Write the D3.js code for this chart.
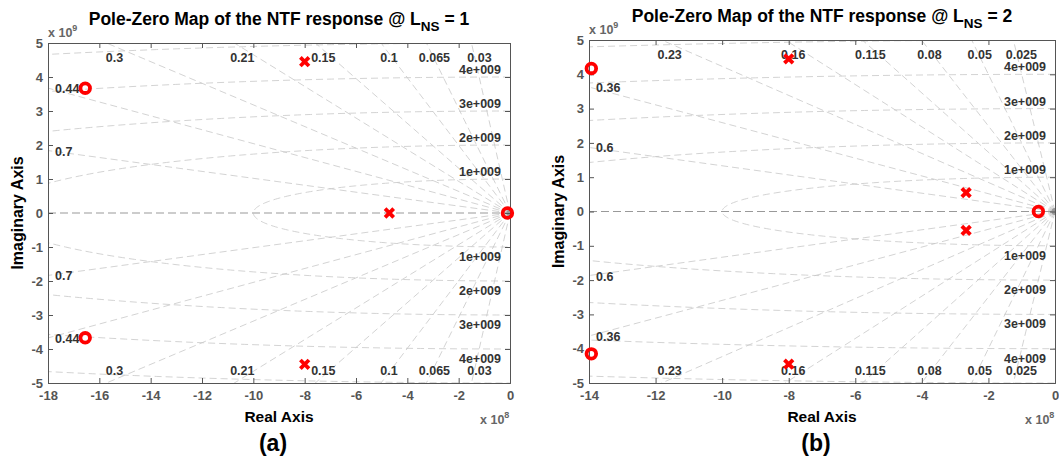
<!DOCTYPE html>
<html>
<head>
<meta charset="utf-8">
<script src="https://cdn.jsdelivr.net/npm/d3@7"></script>
<style>
  body { margin: 0; background: #fff; }
  svg { display: block; font-family: "Liberation Sans", Arial, sans-serif; }
  .tick text { font-size: 13px; font-weight: bold; fill: #555; }
  .tick line, .domain { stroke: #555; }
</style>
</head>
<body>
<svg id="chart" width="1059" height="462"></svg>
<script>
// real parts in units of 1e8, imaginary parts in units of 1e9
const polesA = [[-8, 4.45], [-8, -4.45], [-4.7, 0]];
const zerosA = [[-16.55, 3.67], [-16.55, -3.67], [-0.1, 0]];
const polesB = [[-8, 4.45], [-8, -4.45], [-2.67, 0.55], [-2.67, -0.55]];
const zerosB = [[-13.93, 4.17], [-13.93, -4.15], [-0.5, 0]];

// sgrid damping ratios and natural frequencies (1e9 rad/s)
const zetaA = [0.03, 0.065, 0.1, 0.15, 0.21, 0.3, 0.44, 0.7];
const zetaB = [0.025, 0.05, 0.08, 0.115, 0.16, 0.23, 0.36, 0.6];
const wnCircles = [1, 2, 3, 4, 5];
const wnLabels = ["1e+009", "2e+009", "3e+009", "4e+009"];

const xTicksA = [-18, -16, -14, -12, -10, -8, -6, -4, -2, 0];
const xTicksB = [-14, -12, -10, -8, -6, -4, -2, 0];
const yTicks = [-5, -4, -3, -2, -1, 0, 1, 2, 3, 4, 5];

const svg = d3.select("#chart");

const panels = [
  { id: "a", left: 48, right: 510, top: 43, bottom: 383, xmin: -18, xTicks: xTicksA,
    zeta: zetaA, poles: polesA, zeros: zerosA, lns: "1", titleY: 25, expY: 37, tag: "(a)" },
  { id: "b", left: 589, right: 1055, top: 40, bottom: 383, xmin: -14, xTicks: xTicksB,
    zeta: zetaB, poles: polesB, zeros: zerosB, lns: "2", titleY: 22, expY: 34, tag: "(b)" }
];

panels.forEach(drawPanel);

function drawPanel(p) {
  const x = d3.scaleLinear().domain([p.xmin, 0]).range([p.left, p.right]);
  const y = d3.scaleLinear().domain([-5, 5]).range([p.bottom, p.top]);
  const g = svg.append("g");

  g.append("clipPath").attr("id", "clip-" + p.id)
    .append("rect")
    .attr("x", p.left).attr("y", p.top)
    .attr("width", p.right - p.left).attr("height", p.bottom - p.top);

  const grid = g.append("g").attr("clip-path", `url(#clip-${p.id})`)
    .attr("fill", "none");

  // constant natural frequency curves (circles in the s-plane)
  const arc = d3.line()
    .x(t => x(-10 * t.w * Math.sin(t.a)))
    .y(t => y(t.w * Math.cos(t.a)));
  wnCircles.forEach(w => {
    const pts = d3.range(0, 181).map(d => ({ w: w, a: d * Math.PI / 180 }));
    grid.append("path").attr("d", arc(pts))
      .attr("stroke", "#c8c8c8").attr("stroke-width", 0.8)
      .attr("stroke-dasharray", "7,4");
  });

  // constant damping rays
  p.zeta.forEach(z => {
    const s = Math.sqrt(1 - z * z);
    [1, -1].forEach(sign => {
      grid.append("line")
        .attr("x1", x(0)).attr("y1", y(0))
        .attr("x2", x(-10 * z * 100)).attr("y2", y(sign * s * 100))
        .attr("stroke", "#c8c8c8").attr("stroke-width", 0.8)
        .attr("stroke-dasharray", "7,4");
    });
  });

  // real axis
  grid.append("line")
    .attr("x1", x(p.xmin)).attr("x2", x(0)).attr("y1", y(0)).attr("y2", y(0))
    .attr("stroke", "#999").attr("stroke-width", 1)
    .attr("stroke-dasharray", "8,4");

  // origin blob where grid converges
  grid.append("circle").attr("cx", x(0)).attr("cy", y(0)).attr("r", 3.5)
    .attr("fill", "#999");

  // damping labels
  const lab = g.append("g").attr("font-size", 12.5).attr("font-weight", "bold")
    .attr("fill", "#333");
  p.zeta.forEach(z => {
    const s = Math.sqrt(1 - z * z);
    const reTop = -10 * z * 5 / s;
    if (reTop >= p.xmin) {
      [[p.top + 19], [p.bottom - 8]].forEach(([yy]) => {
        lab.append("text").attr("x", x(reTop) + 8).attr("y", yy)
          .attr("text-anchor", "middle").text(z);
      });
    } else {
      const im = s * (-p.xmin / 10) / z;
      [im, -im].forEach(v => {
        lab.append("text").attr("x", p.left + 7).attr("y", y(v) + 5)
          .text(z);
      });
    }
  });

  // natural frequency labels
  wnLabels.forEach((t, i) => {
    const w = wnCircles[i];
    lab.append("text").attr("x", p.right - 9).attr("y", y(w) - 3)
      .attr("text-anchor", "end").text(t);
    lab.append("text").attr("x", p.right - 9).attr("y", y(-w) + 14)
      .attr("text-anchor", "end").text(t);
  });

  // axes with inward ticks on all sides
  g.append("g").attr("transform", `translate(0,${p.bottom})`)
    .call(d3.axisBottom(x).tickValues(p.xTicks).tickSize(-5).tickPadding(8)
      .tickFormat(d3.format("d")));
  g.append("g").attr("transform", `translate(0,${p.top})`)
    .call(d3.axisTop(x).tickValues(p.xTicks).tickSize(-5).tickFormat(""));
  g.append("g").attr("transform", `translate(${p.left},0)`)
    .call(d3.axisLeft(y).tickValues(yTicks).tickSize(-5).tickPadding(5)
      .tickFormat(d3.format("d")));
  g.append("g").attr("transform", `translate(${p.right},0)`)
    .call(d3.axisRight(y).tickValues(yTicks).tickSize(-5).tickFormat(""));
  g.selectAll(".tick text").text(function () { return this.textContent.replace("−", "-"); });

  // poles and zeros
  const marks = g.append("g").attr("fill", "none").attr("stroke", "#f00");
  marks.selectAll("circle.zero").data(p.zeros).enter().append("circle")
    .attr("class", "zero")
    .attr("cx", d => x(d[0])).attr("cy", d => y(d[1])).attr("r", 4.8)
    .attr("stroke-width", 3.8);
  marks.selectAll("path.pole").data(p.poles).enter().append("path")
    .attr("class", "pole")
    .attr("d", d => {
      const cx = x(d[0]), cy = y(d[1]), h = 4.3;
      return `M${cx - h},${cy - h}L${cx + h},${cy + h}M${cx - h},${cy + h}L${cx + h},${cy - h}`;
    })
    .attr("stroke-width", 3.8);

  // titles and labels
  const cx = (p.left + p.right) / 2;
  const title = g.append("text").attr("x", cx).attr("y", p.titleY)
    .attr("text-anchor", "middle").attr("font-size", 17.5).attr("font-weight", "bold");
  title.append("tspan").text("Pole-Zero Map of the NTF response @ L");
  title.append("tspan").attr("font-size", 13.5).attr("dy", 6).text("NS");
  title.append("tspan").attr("dy", -6).text(" = " + p.lns);

  const e9 = g.append("text").attr("x", p.left).attr("y", p.expY)
    .attr("font-size", 12.5).attr("font-weight", "bold").attr("fill", "#666");
  e9.append("tspan").text("x 10");
  e9.append("tspan").attr("font-size", 9).attr("dy", -6).text("9");

  const e8 = g.append("text").attr("x", p.right - 30).attr("y", 424)
    .attr("font-size", 12.5).attr("font-weight", "bold").attr("fill", "#666");
  e8.append("tspan").text("x 10");
  e8.append("tspan").attr("font-size", 9).attr("dy", -6).text("8");

  g.append("text").attr("x", cx).attr("y", 422).attr("text-anchor", "middle")
    .attr("font-size", 15.5).attr("font-weight", "bold").text("Real Axis");
  g.append("text")
    .attr("transform", `translate(${p.left - 25},${(p.top + p.bottom) / 2}) rotate(-90)`)
    .attr("text-anchor", "middle").attr("font-size", 16).attr("font-weight", "bold")
    .text("Imaginary Axis");
  g.append("text").attr("x", cx - 6).attr("y", 451).attr("text-anchor", "middle")
    .attr("font-size", 23).attr("font-weight", "bold").text(p.tag);
}
</script>
</body>
</html>
